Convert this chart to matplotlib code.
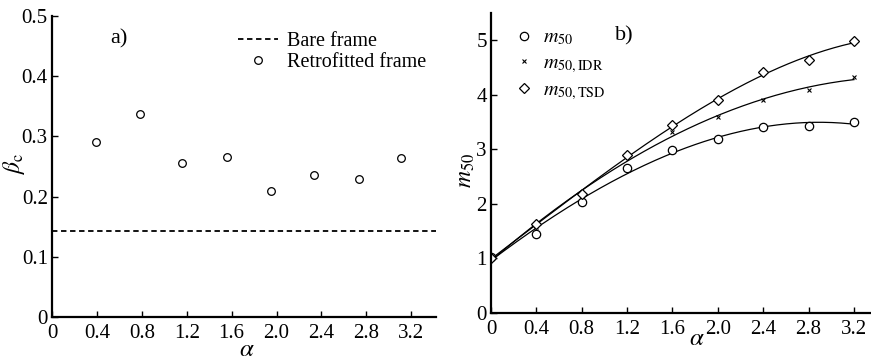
#!/usr/bin/env python3
"""Dispersion beta_c and median capacity m50 versus alpha (two panels)."""

import matplotlib
matplotlib.use("Agg")
import matplotlib.pyplot as plt
import numpy as np

plt.rcParams["font.family"] = ["Liberation Serif", "DejaVu Serif"]
plt.rcParams["mathtext.fontset"] = "stix"

# ---------------------------------------------------------------------------
# Data
# ---------------------------------------------------------------------------
ticks_alpha = [0, 0.4, 0.8, 1.2, 1.6, 2.0, 2.4, 2.8, 3.2]
tick_labels_a = ["0", "0.4", "0.8", "1.2", "1.6", "2.0", "2.4", "2.8", "3.2"]

# panel a)
alpha_a = [0.39, 0.78, 1.16, 1.56, 1.95, 2.33, 2.73, 3.11]
beta_retrofit = [0.291, 0.338, 0.256, 0.266, 0.210, 0.236, 0.229, 0.264]
beta_bare = 0.143

# panel b)
alpha_b = [0.0, 0.4, 0.8, 1.2, 1.6, 2.0, 2.4, 2.8, 3.2]
m50 = [1.02, 1.45, 2.04, 2.65, 2.98, 3.19, 3.40, 3.43, 3.50]
m50_idr = [1.00, 1.58, 2.15, 2.87, 3.31, 3.60, 3.90, 4.08, 4.32]
m50_tsd = [1.00, 1.62, 2.18, 2.90, 3.44, 3.91, 4.41, 4.63, 4.99]

FS = 15

fig = plt.figure(figsize=(8.71, 3.60), dpi=100)
ax1 = fig.add_axes([52 / 871, 43 / 360, 384 / 871, 301 / 360])
ax2 = fig.add_axes([491 / 871, 47.3 / 360, 380 / 871, 299.7 / 360])

for ax in (ax1, ax2):
    for side in ("top", "right"):
        ax.spines[side].set_visible(False)
    for side in ("left", "bottom"):
        ax.spines[side].set_linewidth(1.6)
    ax.tick_params(direction="in", length=4, width=1.0, labelsize=FS)
    ax.tick_params(axis="x", pad=5)
    ax.tick_params(axis="y", pad=3)
    ax.set_xticks(ticks_alpha)
    ax.set_xticklabels(tick_labels_a)

# ---------------------------------------------------------------------------
# a) beta_c
# ---------------------------------------------------------------------------
ax1.axhline(beta_bare, color="black", lw=1.3, ls=(0, (3, 2)), label="Bare frame")
ax1.plot(alpha_a, beta_retrofit, ls="none", marker="o", ms=5.5, mfc="white",
         mec="black", mew=0.9, label="Retrofitted frame")
ax1.set_xlim(0, 3.42)
ax1.set_ylim(0, 0.5)
ax1.set_yticks([0, 0.1, 0.2, 0.3, 0.4, 0.5])
ax1.set_yticklabels(["0", "0.1", "0.2", "0.3", "0.4", "0.5"])
ax1.set_ylabel(r"$\beta_\mathrm{c}$", fontsize=17)
ax1.set_xlabel(r"$\alpha$", fontsize=18)
ax1.yaxis.set_label_coords(-0.064, 0.51)
ax1.xaxis.set_label_coords(0.508, -0.072)
ax1.text(0.52, 0.462, "a)", fontsize=16, va="center")
ax1.legend(loc="upper left", bbox_to_anchor=(0.463, 0.975), frameon=False,
           fontsize=14.5, handlelength=2.0, handletextpad=0.45, labelspacing=0.12,
           borderaxespad=0)

# ---------------------------------------------------------------------------
# b) m50
# ---------------------------------------------------------------------------
xs = np.linspace(0, 3.2, 200)
for y in (m50, m50_idr, m50_tsd):
    coef = np.polyfit(alpha_b, y, 3)
    ax2.plot(xs, np.polyval(coef, xs), color="black", lw=0.9)

ax2.plot(alpha_b, m50, ls="none", marker="o", ms=6, mfc="white", mec="black",
         mew=0.9, label=r"$m_{50}$")
ax2.plot(alpha_b, m50_idr, ls="none", marker="x", ms=3.5, color="black",
         mew=0.8, label=r"$m_{50,\mathrm{IDR}}$")
ax2.plot(alpha_b, m50_tsd, ls="none", marker="D", ms=5, mfc="white", mec="black",
         mew=0.9, label=r"$m_{50,\mathrm{TSD}}$")
ax2.set_xlim(0, 3.35)
ax2.set_ylim(0, 5.5)
ax2.set_yticks([0, 1, 2, 3, 4, 5])
ax2.set_ylabel(r"$m_{50}$", fontsize=17)
ax2.set_xlabel(r"$\alpha$", fontsize=18)
ax2.yaxis.set_label_coords(-0.037, 0.476)
ax2.xaxis.set_label_coords(0.542, -0.05)
ax2.text(1.09, 5.08, "b)", fontsize=16, va="center")
ax2.legend(loc="upper left", bbox_to_anchor=(0.035, 0.975), frameon=False,
           fontsize=14.5, numpoints=1, handlelength=1.2, handletextpad=0.3,
           labelspacing=0.3, borderaxespad=0)

fig.savefig("out.png", dpi=100)
